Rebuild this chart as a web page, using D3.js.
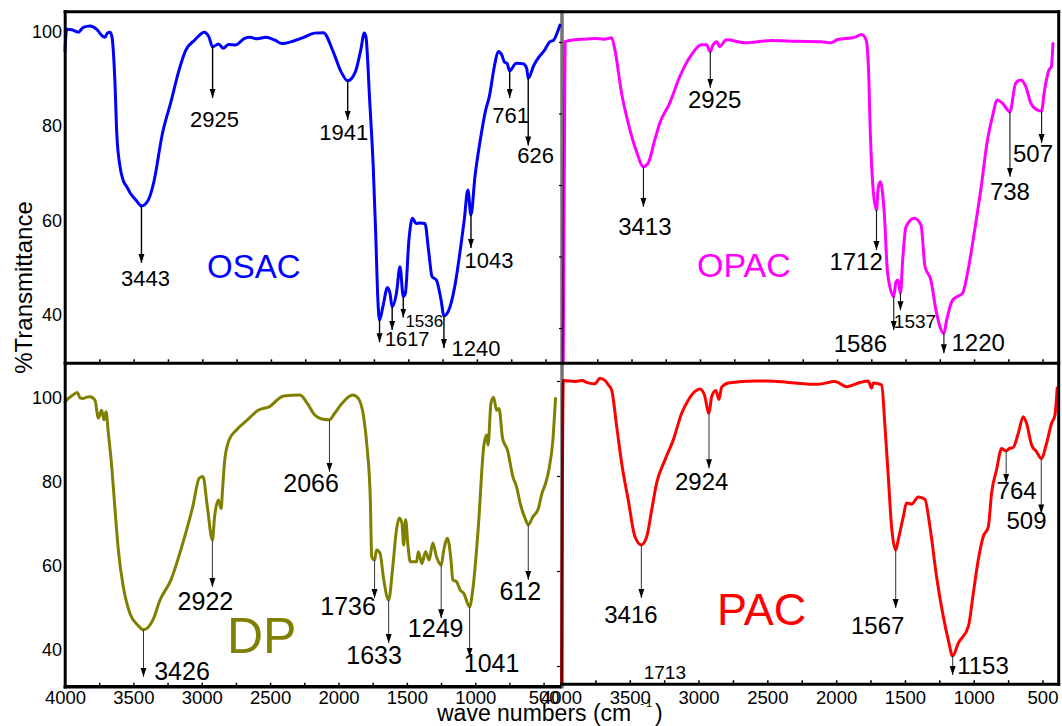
<!DOCTYPE html>
<html>
<head>
<meta charset="utf-8">
<script src="https://cdn.jsdelivr.net/npm/d3@7"></script>
<style>
  body { margin: 0; background: #fff; }
  svg { display: block; }
  text { font-family: "Liberation Sans", Arial, Helvetica, sans-serif; fill: #000; }
</style>
</head>
<body>
<svg id="chart" width="1062" height="726"></svg>
<script>
// ---------- FTIR spectra: [wavenumber (cm-1), %T] ----------
const osacSpectrum = [
  [4000,96.0],[3988,100.5],[3951,100.4],[3903,99.9],[3867,100.9],[3818,101.2],[3769,100.5],[3728,99.1],
  [3709,98.8],[3692,99.7],[3672,99.9],[3658,98.9],[3636,89.1],[3623,78.5],[3599,71.4],[3576,68.5],
  [3551,67.2],[3524,65.8],[3480,64.2],[3443,63.1],[3394,64.3],[3355,67.9],[3290,78.5],[3225,85.5],
  [3173,91.5],[3120,96.1],[3056,98.2],[2985,99.9],[2952,98.9],[2925,96.8],[2881,97.4],[2848,96.5],
  [2808,97.3],[2757,97.2],[2692,98.6],[2653,98.8],[2601,98.5],[2536,98.8],[2471,98.2],[2419,97.5],
  [2262,98.8],[2184,99.7],[2119,99.8],[2042,95.4],[1989,91.5],[1941,89.6],[1885,91.5],[1846,96.1],
  [1820,99.7],[1808,98.9],[1781,85.5],[1755,71.4],[1737,57.3],[1721,43.2],[1709,38.9],[1685,41.7],
  [1651,45.8],[1633,44.6],[1617,41.7],[1586,44.6],[1560,50.2],[1536,43.9],[1521,44.6],[1495,55.9],
  [1469,60.5],[1443,59.4],[1417,59.5],[1378,59.4],[1352,53.7],[1326,48.1],[1295,47.4],[1261,43.2],
  [1240,39.8],[1196,41.7],[1157,46.7],[1118,54.4],[1092,60.1],[1066,66.5],[1043,61.2],[1014,69.3],
  [975,77.1],[936,83.4],[910,86.2],[871,92.9],[845,95.8],[819,95.1],[800,93.6],[780,93.3],
  [761,91.7],[714,93.3],[663,93.2],[637,92.2],[626,90.1],[585,92.9],[546,94.7],[507,96.1],
  [468,97.9],[441,98.2],[416,99.7],[395,101.4]
];

const opacSpectrum = [
  [4000,0],[3985,100.1],[3913,100.6],[3850,100.8],[3767,101.0],[3700,100.8],[3670,101.0],[3645,101.2],
  [3621,97.8],[3572,85.6],[3524,77.3],[3463,69.3],[3413,65.1],[3379,66.1],[3330,72.6],[3294,77.3],
  [3221,82.9],[3148,90.3],[3063,96.4],[2990,99.2],[2953,99.2],[2925,97.3],[2905,99.2],[2876,100.1],
  [2857,98.7],[2808,100.6],[2674,99.8],[2480,100.4],[2300,100.2],[2116,100.1],[2043,99.8],[1995,100.7],
  [1873,101.3],[1820,102.1],[1788,100.6],[1771,93.1],[1757,74.5],[1738,59.5],[1712,53.0],[1700,59.0],
  [1684,60.9],[1655,52.1],[1631,35.3],[1586,28.8],[1570,32.9],[1556,33.4],[1537,29.7],[1521,39.0],
  [1497,48.3],[1436,50.7],[1387,48.8],[1358,37.2],[1315,33.4],[1278,25.0],[1220,18.5],[1200,22.2],
  [1157,27.8],[1121,28.8],[1084,29.7],[1048,35.3],[999,46.5],[951,58.6],[902,72.6],[866,79.1],
  [830,83.8],[793,82.9],[738,80.5],[696,88.5],[659,89.4],[622,87.5],[586,82.9],[540,81.0],
  [507,80.7],[489,85.6],[453,92.2],[436,93.1],[424,99.6]
];

const dpSpectrum = [
  [4000,99.0],[3988,99.5],[3951,100.5],[3910,101.3],[3890,100.0],[3866,99.9],[3840,100.2],[3817,100.3],
  [3781,99.5],[3756,95.2],[3732,97.1],[3715,94.8],[3700,96.7],[3683,91.6],[3658,83.6],[3634,73.3],
  [3610,63.8],[3574,55.1],[3525,48.7],[3470,46.0],[3426,44.8],[3358,47.1],[3305,51.9],[3225,56.7],
  [3146,64.6],[3066,74.1],[3018,80.9],[2991,81.3],[2959,74.1],[2922,66.2],[2906,71.7],[2879,75.7],
  [2858,73.7],[2848,78.1],[2832,85.2],[2800,90.0],[2746,92.4],[2666,94.8],[2587,97.1],[2507,97.9],
  [2401,100.5],[2281,100.7],[2228,98.7],[2175,96.0],[2121,95.0],[2066,94.8],[2029,96.3],[1975,98.7],
  [1895,100.7],[1855,99.9],[1816,95.5],[1789,87.6],[1767,75.7],[1757,62.2],[1736,61.4],[1722,63.8],
  [1696,63.0],[1669,56.7],[1633,51.9],[1603,59.8],[1576,68.6],[1555,71.4],[1536,70.2],[1523,65.0],
  [1509,71.0],[1491,64.6],[1475,61.0],[1429,61.0],[1416,63.4],[1390,60.6],[1363,63.4],[1337,61.4],
  [1310,65.5],[1283,62.2],[1249,60.2],[1230,63.8],[1203,66.6],[1177,61.4],[1164,56.7],[1137,56.3],
  [1110,54.3],[1084,53.5],[1041,50.3],[1018,54.3],[977,69.4],[938,88.4],[917,91.2],[906,88.8],
  [885,98.7],[866,100.2],[844,97.1],[826,97.5],[800,90.4],[764,87.6],[725,81.3],[698,78.9],
  [671,74.9],[631,71.0],[612,69.8],[579,71.7],[538,73.7],[512,77.3],[485,79.7],[459,83.3],
  [432,90.0],[413,99.9]
];

const pacSpectrum = [
  [4000,0],[3983,100.1],[3898,99.9],[3850,100.1],[3802,99.6],[3753,99.4],[3717,100.6],[3680,100.1],
  [3656,99.2],[3632,98.1],[3595,90.4],[3559,82.7],[3511,74.9],[3462,67.2],[3416,65.5],[3377,67.2],
  [3341,72.8],[3305,78.5],[3244,83.4],[3184,87.6],[3123,93.2],[3074,96.0],[3026,97.8],[2990,98.3],
  [2958,97.1],[2924,93.2],[2905,96.7],[2874,98.0],[2852,96.1],[2832,98.7],[2784,99.6],[2590,100.0],
  [2493,100.0],[2348,99.7],[2130,99.3],[2009,99.9],[1924,98.8],[1827,99.7],[1767,100.0],[1742,98.5],
  [1730,99.6],[1669,99.2],[1645,90.4],[1621,79.9],[1597,69.3],[1567,64.4],[1549,66.5],[1512,71.4],
  [1488,74.3],[1451,74.1],[1403,75.6],[1355,75.1],[1318,69.3],[1270,58.8],[1221,50.4],[1185,45.5],
  [1153,42.1],[1112,44.8],[1039,48.3],[1003,55.3],[967,62.3],[931,67.2],[894,69.3],[870,76.4],
  [834,81.3],[797,85.8],[780,85.5],[764,85.3],[740,85.8],[713,86.0],[676,89.0],[640,92.5],
  [616,91.1],[579,86.5],[543,85.1],[509,83.7],[470,86.9],[434,91.1],[410,92.8],[393,98.5]
];

// ---------- labelled bands (wavenumbers, label text) ----------
const osacPeaks  = [3443, 2925, 1941, 1709, 1617, 1536, 1240, 1043, 761, 626];
const osacLabels = ["3443","2925","1941","","1617","1536","1240","1043","761","626"];
const opacPeaks  = [3413, 2925, 1712, 1586, 1537, 1220, 738, 507];
const opacLabels = ["3413","2925","1712","1586","1537","1220","738","507"];
const dpPeaks    = [3426, 2922, 2066, 1736, 1633, 1249, 1041, 612];
const dpLabels   = ["3426","2922","2066","1736","1633","1249","1041","612"];
const pacPeaks   = [3416, 2924, 1567, 1153, 764, 509];
const pacLabels  = ["3416","2924","1567","1153","764","509"];

// ---------- axis ticks ----------
const xTickValues = [4000, 3500, 3000, 2500, 2000, 1500, 1000, 500];
const xMinorTicks = d3.range(3750, 380, -250);
const yTickValues = [100, 80, 60, 40];
const yTickValuesDeep = [100, 80, 60, 40, 20];
const xDomain = [4000, 380];

// ---------- arrow/label placement: [arrow length, label dx, label dy, font size] ----------
const osacPeakLayout = [[57,4,23,22],[51,2,29,22],[39,-4,20,22],[22,0,0,0],[23,15,16,20],[21,21,9,17],[32,32,8,22],[33,18,20,22],[27,1,25,22],[67,7.5,18,22]];
const opacPeakLayout = [[40,1.4,28,24],[36,4.4,20,24],[40,-20.4,20,24],[33.5,-33.4,22,24],[17,14.5,18,19],[20,34.3,-2,24],[65,0,23,24],[32,-8.6,19,24]];
const dpPeakLayout   = [[47,38.5,3,25],[47,-7,23,25],[52,-18.4,20,25],[38,-26.5,17,25],[43,-14.6,21,25],[53,-5.5,19,25],[50,22,15,25],[55,-8,20,25]];
const pacPeakLayout  = [[53,-10.4,25,24],[55,-7.3,22,24],[58,-18,26,24],[19,30.3,-1,24],[32,10.4,16,24],[55,-14.7,16,24]];

const panels = [
  { name: "OSAC", spectrum: osacSpectrum, peaks: osacPeaks, labels: osacLabels, layout: osacPeakLayout,
    color: "#0000ff", xr: [65, 562], box: [65, 12, 562, 363.3], yDom: [100, 40], yr: [31.7, 315],
    title: [207, 278, 33], arrowW: 1.4, arrowC: "#000" },
  { name: "OPAC", spectrum: opacSpectrum, peaks: opacPeaks, labels: opacLabels, layout: opacPeakLayout,
    color: "#ff00ff", xr: [563, 1059], box: [563, 12, 1058.7, 363.3], yDom: [100, 20], yr: [42, 328],
    title: [697, 277, 34], arrowW: 1.1, arrowC: "#111" },
  { name: "DP", spectrum: dpSpectrum, peaks: dpPeaks, labels: dpLabels, layout: dpPeakLayout,
    color: "#808000", xr: [65, 560], box: [65, 363.3, 560, 686.7], yDom: [100, 40], yr: [398, 650],
    title: [227, 653, 50], arrowW: 1, arrowC: "#333" },
  { name: "PAC", spectrum: pacSpectrum, peaks: pacPeaks, labels: pacLabels, layout: pacPeakLayout,
    color: "#ff0000", xr: [561, 1059], box: [561, 363.3, 1058.7, 684.2], yDom: [100, 40], yr: [381, 666],
    title: [717, 625, 45], arrowW: 1, arrowC: "#333" }
];

const svg = d3.select("#chart");
const defs = svg.append("defs");
defs.append("marker")
  .attr("id", "head")
  .attr("viewBox", "0 -4 9 8")
  .attr("refX", 9).attr("refY", 0)
  .attr("markerWidth", 9).attr("markerHeight", 8)
  .attr("markerUnits", "userSpaceOnUse")
  .attr("orient", "auto")
  .append("path").attr("d", "M0,-3L9,0L0,3Z").attr("fill", "#000");

function valueAt(spec, wn) {
  for (let i = 0; i < spec.length - 1; i++) {
    const [w0, v0] = spec[i], [w1, v1] = spec[i + 1];
    if (wn <= w0 && wn >= w1) return v0 + (v1 - v0) * (wn - w0) / (w1 - w0);
  }
  return spec[spec.length - 1][1];
}

const frameLayer = svg.append("g");
const plotLayer = svg.append("g");
const overLayer = svg.append("g");

panels.forEach((p, i) => {
  p.x = d3.scaleLinear().domain(xDomain).range(p.xr);
  p.y = d3.scaleLinear().domain(p.yDom).range(p.yr);
  const [bx0, by0, bx1, by1] = p.box;

  // clip region for the spectrum
  defs.append("clipPath").attr("id", "clip" + i)
    .append("rect").attr("x", bx0 - 2).attr("y", by0).attr("width", bx1 - bx0 + 2).attr("height", by1 - by0);

  const line = d3.line().x(d => p.x(d[0])).y(d => p.y(d[1])).curve(d3.curveMonotoneX);
  plotLayer.append("path")
    .datum(p.spectrum)
    .attr("clip-path", `url(#clip${i})`)
    .attr("d", line)
    .attr("fill", "none")
    .attr("stroke", p.color)
    .attr("stroke-width", 3)
    .attr("stroke-linejoin", "round")
    .attr("stroke-linecap", "round");

  // band arrows and labels
  p.peaks.forEach((wn, k) => {
    const [len, dx, dy, fs] = p.layout[k];
    const px = p.x(wn);
    const py = p.y(valueAt(p.spectrum, wn));
    overLayer.append("line")
      .attr("x1", px).attr("x2", px)
      .attr("y1", py).attr("y2", py + len)
      .attr("stroke", p.arrowC).attr("stroke-width", p.arrowW)
      .attr("marker-end", "url(#head)");
    if (p.labels[k]) {
      overLayer.append("text")
        .attr("x", px + dx).attr("y", py + len + dy)
        .attr("text-anchor", "middle")
        .attr("font-size", fs)
        .text(p.labels[k]);
    }
  });

  // sample name
  overLayer.append("text")
    .attr("x", p.title[0]).attr("y", p.title[1])
    .attr("font-size", p.title[2])
    .style("fill", p.color)
    .text(p.name);

  // inward minor ticks along the bottom edge
  const minor = d3.axisBottom(p.x).tickValues(xMinorTicks).tickSize(-4).tickFormat("");
  const gm = frameLayer.append("g").attr("transform", `translate(0,${by1})`).call(minor);
  gm.select(".domain").remove();
  gm.selectAll("line").attr("stroke", "#000").attr("stroke-width", 1.5);
});

// y tick labels on the left panels
[panels[0], panels[2]].forEach(p => {
  const ax = d3.axisLeft(p.y).tickValues(yTickValues).tickSize(0).tickPadding(3);
  const g = overLayer.append("g").attr("transform", `translate(${p.xr[0]},0)`).call(ax);
  g.select(".domain").remove();
  g.selectAll("text").attr("font-size", 18).attr("font-family", null);
});

// unlabelled y ticks on the right panels
[[panels[1], yTickValuesDeep], [panels[3], yTickValues]].forEach(([p, vals]) => {
  const ax = d3.axisLeft(p.y).tickValues(vals).tickSize(3).tickFormat("");
  const g = frameLayer.append("g").attr("transform", `translate(${p.box[0] - 1},0)`).call(ax);
  g.select(".domain").remove();
  g.selectAll("line").attr("stroke", "#000").attr("stroke-width", 1.2);
});

// x tick labels on the bottom panels
[[panels[2], 4.4], [panels[3], 6.8]].forEach(([p, pad]) => {
  const ax = d3.axisBottom(p.x).tickValues(xTickValues).tickSize(0).tickPadding(pad).tickFormat(d3.format("d"));
  const g = overLayer.append("g").attr("transform", `translate(0,${p.box[3]})`).call(ax);
  g.select(".domain").remove();
  g.selectAll("text").attr("font-size", 18.5).attr("font-family", null);
});

// frames
const frame = [
  [63.6, 11.7, 1060.2, 11.7, 3],
  [65.2, 10.2, 65.2, 688.4, 3],
  [1058.7, 10.2, 1058.7, 685.7, 3],
  [63.6, 363.3, 1060.2, 363.3, 3],
  [63.6, 686.7, 561.5, 686.7, 3.4],
  [560, 684.2, 1060.2, 684.2, 3]
];
frame.forEach(([x1, y1, x2, y2, w]) => {
  overLayer.append("line").attr("x1", x1).attr("y1", y1).attr("x2", x2).attr("y2", y2)
    .attr("stroke", "#000").attr("stroke-width", w);
});
overLayer.append("line")
  .attr("x1", 562).attr("x2", 562).attr("y1", 10.2).attr("y2", 688.4)
  .attr("stroke", "#000").attr("stroke-opacity", 0.55).attr("stroke-width", 3.5);

// stray band number at the foot of the PAC panel
overLayer.append("text")
  .attr("x", panels[3].x(3245)).attr("y", panels[3].y(37.3))
  .attr("text-anchor", "middle").attr("font-size", 19)
  .text("1713");

// axis titles
svg.append("text")
  .attr("transform", "translate(32.3,287.5) rotate(-90)")
  .attr("text-anchor", "middle")
  .attr("font-size", 24)
  .text("%Transmittance");

const xt = svg.append("text").attr("x", 437).attr("y", 721).attr("font-size", 23);
xt.append("tspan").text("wave numbers (cm");
xt.append("tspan").attr("font-size", 11).attr("dx", 9).attr("dy", -14).attr("letter-spacing", 2).text("-1");
xt.append("tspan").attr("dx", 1).attr("dy", 14).text(")");
</script>
</body>
</html>
